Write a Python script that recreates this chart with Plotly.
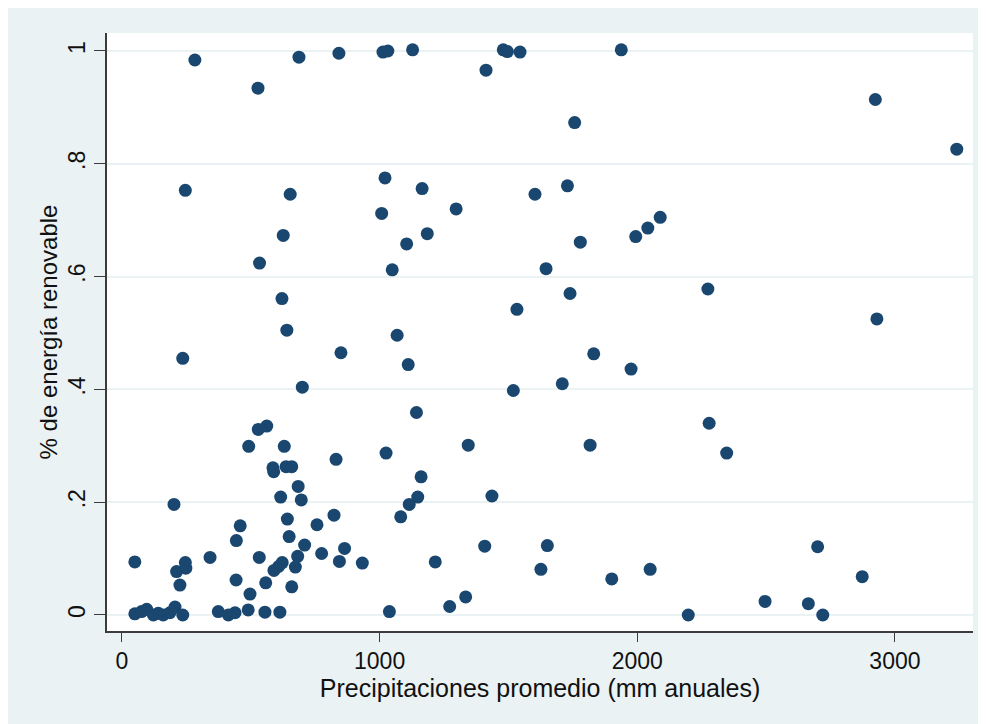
import plotly.graph_objects as go

# Precipitaciones promedio (mm anuales)
precip = [
    283, 528, 687, 842, 1013, 1032, 1128, 1413, 1480, 1496, 1545, 1938, 2924, 1757, 3240,
    246, 653, 1021, 1165, 1603, 1729, 1008, 1297, 1185, 1105, 626, 2089, 2041, 1994, 1779,
    534, 1049, 1646, 621, 1533, 1739, 2274, 2930, 640, 1068, 236, 850, 1111, 1831, 1976,
    700, 1519, 1709, 1143, 2279, 529, 562, 492, 630, 1344, 1817, 2347, 1025, 831, 586,
    589, 637, 659, 1161, 684, 202, 616, 696, 1148, 1115, 1436, 1082, 823, 642, 757,
    459, 444, 649, 709, 1408, 1651, 2700, 864, 775, 682, 342, 533, 50, 246, 844,
    933, 1216, 622, 608, 590, 558, 673, 212, 248, 1626, 1901, 2050, 2873, 443, 225,
    659, 497, 1334, 1272, 1038, 2198, 2496, 2664, 2720,
    50, 76, 96, 122, 141, 160, 186, 206, 236, 374, 413, 439, 490, 555, 613,
]
# % de energía renovable (proporción)
renovable = [
    0.984, 0.934, 0.989, 0.996, 0.998, 1.000, 1.002, 0.966, 1.002, 0.999, 0.998, 1.002, 0.914, 0.873, 0.826,
    0.753, 0.746, 0.775, 0.756, 0.746, 0.761, 0.712, 0.720, 0.676, 0.658, 0.673, 0.705, 0.686, 0.671, 0.661,
    0.624, 0.612, 0.614, 0.561, 0.542, 0.570, 0.578, 0.525, 0.505, 0.496, 0.455, 0.465, 0.444, 0.463, 0.436,
    0.404, 0.398, 0.410, 0.359, 0.340, 0.329, 0.335, 0.299, 0.299, 0.301, 0.301, 0.287, 0.287, 0.276, 0.261,
    0.254, 0.263, 0.263, 0.245, 0.228, 0.196, 0.209, 0.204, 0.209, 0.196, 0.211, 0.174, 0.177, 0.170, 0.160,
    0.158, 0.132, 0.139, 0.124, 0.122, 0.123, 0.121, 0.118, 0.109, 0.104, 0.102, 0.102, 0.094, 0.093, 0.095,
    0.092, 0.094, 0.093, 0.086, 0.079, 0.057, 0.085, 0.077, 0.083, 0.081, 0.064, 0.081, 0.068, 0.062, 0.053,
    0.050, 0.037, 0.032, 0.015, 0.006, 0.000, 0.024, 0.020, 0.000,
    0.002, 0.006, 0.010, 0.000, 0.003, 0.000, 0.004, 0.014, 0.000, 0.006, 0.000, 0.004, 0.009, 0.005, 0.005,
]

x_ticks = [0, 1000, 2000, 3000]
x_tick_labels = ["0", "1000", "2000", "3000"]
y_ticks = [0, 0.2, 0.4, 0.6, 0.8, 1]
y_tick_labels = ["0", ".2", ".4", ".6", ".8", "1"]

BG = "rgb(234,242,243)"
NAVY = "rgb(26,71,111)"
AXIS = "#3c3c3c"
FONT = "Liberation Sans, Arial, sans-serif"

fig = go.Figure()
fig.add_trace(go.Scatter(
    x=precip, y=renovable, mode="markers",
    marker=dict(color=NAVY, size=13, line=dict(width=0)),
    showlegend=False,
))

fig.update_layout(
    width=978, height=716,
    margin=dict(l=99, r=13, t=25, b=93),
    paper_bgcolor=BG,
    plot_bgcolor="white",
    font=dict(family=FONT, color="#1a1a1a"),
    xaxis=dict(
        range=[-58, 3303],
        tickmode="array", tickvals=x_ticks, ticktext=x_tick_labels,
        ticks="outside", ticklen=9, tickwidth=1.2, tickcolor=AXIS,
        showline=True, linecolor=AXIS, linewidth=1.5,
        showgrid=False, zeroline=False,
        tickfont=dict(size=23, family=FONT, color="#111"),
        title=dict(text="Precipitaciones promedio (mm anuales)",
                   font=dict(size=25, family=FONT, color="#111"), standoff=4),
        automargin=False,
    ),
    yaxis=dict(
        range=[-0.0284, 1.0319],
        tickmode="array", tickvals=y_ticks, ticktext=y_tick_labels,
        ticks="outside", ticklen=11, tickwidth=1.2, tickcolor=AXIS,
        tickangle=-90,
        showline=True, linecolor=AXIS, linewidth=1.5,
        showgrid=True, gridcolor=BG, gridwidth=1.5,
        zeroline=False,
        tickfont=dict(size=23, family=FONT, color="#111"),
        title=dict(text="% de energía renovable",
                   font=dict(size=24, family=FONT, color="#111"), standoff=0),
        automargin=False,
    ),
)

fig.write_html("out.html")
